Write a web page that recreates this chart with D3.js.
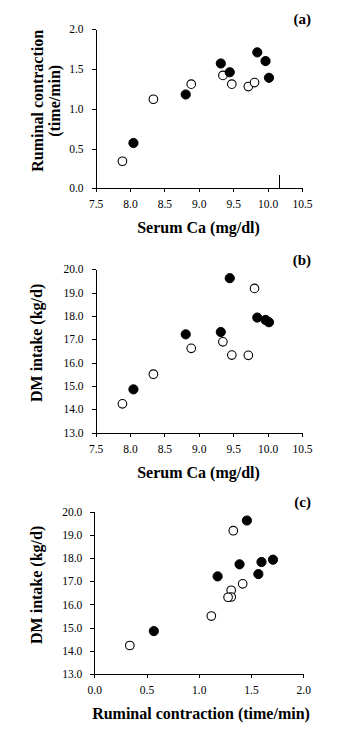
<!DOCTYPE html>
<html>
<head>
<meta charset="utf-8">
<script src="https://cdn.jsdelivr.net/npm/d3@7"></script>
<style>
  html, body { margin: 0; padding: 0; background: #fff; }
  svg { display: block; }
  text { font-family: "Liberation Serif", "Times New Roman", serif; fill: #000; }
</style>
</head>
<body>
<svg id="chart" width="363" height="747"></svg>
<script>
// ---- Data (per cow) ----
// Filled circles group
const filledSerumCa  = [8.05, 8.81, 9.32, 9.45, 9.85, 9.97, 10.02];
const filledRuminal  = [0.57, 1.18, 1.57, 1.46, 1.71, 1.60, 1.39];
const filledDMI      = [14.85, 17.21, 17.31, 19.62, 17.93, 17.83, 17.73];
// Open circles group
const openSerumCa    = [7.89, 8.34, 8.89, 9.35, 9.48, 9.72, 9.81];
const openRuminal    = [0.34, 1.12, 1.31, 1.42, 1.31, 1.28, 1.33];
const openDMI        = [14.23, 15.50, 16.61, 16.89, 16.32, 16.31, 19.18];

// Tick values
const serumCaTicks   = [7.5, 8.0, 8.5, 9.0, 9.5, 10.0, 10.5];
const ruminalTicks   = [0.0, 0.5, 1.0, 1.5, 2.0];
const dmiTicks       = [13, 14, 15, 16, 17, 18, 19, 20];
// stray vertical mark present in panel (a)
const panelAMark     = [10.17];

const svg = d3.select("#chart");

function panel(opts) {
  const g = svg.append("g");
  const x = d3.scaleLinear().domain(opts.xDomain).range([opts.left, opts.right]);
  const y = d3.scaleLinear().domain(opts.yDomain).range([opts.bottom, opts.top]);

  const xAxis = d3.axisBottom(x).tickValues(opts.xTicks).tickFormat(d3.format(".1f"))
      .tickSize(4).tickSizeOuter(0).tickPadding(8);
  const yAxis = d3.axisLeft(y).tickValues(opts.yTicks).tickFormat(d3.format(".1f"))
      .tickSize(4).tickSizeOuter(0).tickPadding(8);

  const gx = g.append("g").attr("transform", `translate(0,${opts.bottom})`).call(xAxis);
  const gy = g.append("g").attr("transform", `translate(${opts.left},0)`).call(yAxis);
  [gx, gy].forEach(a => {
    a.selectAll("path, line").attr("stroke", "#000").attr("stroke-width", 1).attr("shape-rendering", "crispEdges");
    a.selectAll("text").style("font-size", "11.5px").attr("fill", "#000");
  });

  // open circles
  g.selectAll(null).data(opts.openX.map((v, i) => [v, opts.openY[i]])).join("circle")
    .attr("cx", d => x(d[0])).attr("cy", d => y(d[1])).attr("r", 4.3)
    .attr("fill", "#fff").attr("stroke", "#000").attr("stroke-width", 1.1);
  // filled circles
  g.selectAll(null).data(opts.filledX.map((v, i) => [v, opts.filledY[i]])).join("circle")
    .attr("cx", d => x(d[0])).attr("cy", d => y(d[1])).attr("r", 4.6)
    .attr("fill", "#000").attr("stroke", "#000").attr("stroke-width", 1);

  if (opts.marks) {
    g.selectAll(null).data(opts.marks).join("line")
      .attr("x1", d => x(d)).attr("x2", d => x(d))
      .attr("y1", opts.bottom - 13).attr("y2", opts.bottom)
      .attr("stroke", "#000").attr("stroke-width", 1).attr("shape-rendering", "crispEdges");
  }

  // x label
  g.append("text").attr("x", opts.xLabelX).attr("y", opts.bottom + 45)
    .attr("text-anchor", "middle").style("font-size", "16px").style("font-weight", "bold")
    .text(opts.xLabel);

  // y label (possibly multi-line)
  const cy = (opts.top + opts.bottom) / 2 - 8;
  opts.yLabel.forEach((line, i) => {
    g.append("text")
      .attr("transform", `translate(${opts.yLabelBase[i]},${cy}) rotate(-90)`)
      .attr("text-anchor", "middle").style("font-size", "16px").style("font-weight", "bold")
      .text(line);
  });

  // panel tag
  g.append("text").attr("x", 311).attr("y", opts.tagY)
    .attr("text-anchor", "end").style("font-size", "15px").style("font-weight", "bold")
    .text(opts.tag);
}

panel({
  xDomain: [7.5, 10.5], yDomain: [0, 2],
  left: 95.6, right: 302, top: 29.3, bottom: 188.3,
  xTicks: serumCaTicks, yTicks: ruminalTicks,
  filledX: filledSerumCa, filledY: filledRuminal,
  openX: openSerumCa, openY: openRuminal,
  marks: panelAMark,
  xLabel: "Serum Ca (mg/dl)", xLabelX: 198.5,
  yLabel: ["Ruminal contraction", "(time/min)"], yLabelBase: [43, 59.5],
  tag: "(a)", tagY: 24
});

panel({
  xDomain: [7.5, 10.5], yDomain: [13, 20],
  left: 95.6, right: 302, top: 269.3, bottom: 432.5,
  xTicks: serumCaTicks, yTicks: dmiTicks,
  filledX: filledSerumCa, filledY: filledDMI,
  openX: openSerumCa, openY: openDMI,
  xLabel: "Serum Ca (mg/dl)", xLabelX: 198.5,
  yLabel: ["DM intake (kg/d)"], yLabelBase: [42],
  tag: "(b)", tagY: 265
});

panel({
  xDomain: [0, 2], yDomain: [13, 20],
  left: 94.3, right: 303.3, top: 511.7, bottom: 674,
  xTicks: ruminalTicks, yTicks: dmiTicks,
  filledX: filledRuminal, filledY: filledDMI,
  openX: openRuminal, openY: openDMI,
  xLabel: "Ruminal contraction (time/min)", xLabelX: 201,
  yLabel: ["DM intake (kg/d)"], yLabelBase: [42],
  tag: "(c)", tagY: 507
});
</script>
</body>
</html>
